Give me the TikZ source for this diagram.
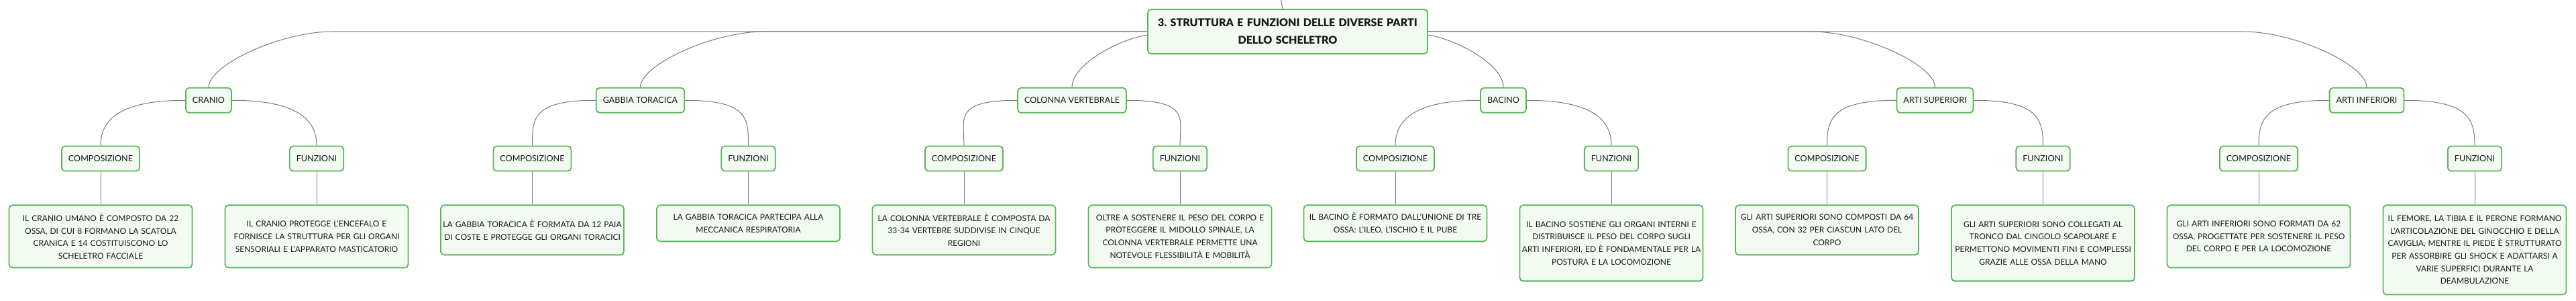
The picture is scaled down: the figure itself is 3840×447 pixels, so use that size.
\documentclass[tikz,border=0pt]{standalone}
\usepackage{fontspec}
\setmainfont{Lato}
\newfontfamily\latonero{Lato Black}
\frenchspacing
\usetikzlibrary{positioning,calc}
\definecolor{bordoverde}{RGB}{92,180,92}
\definecolor{fondoverde}{RGB}{242,250,242}
\definecolor{grigiolinea}{RGB}{120,120,120}
\definecolor{testo}{RGB}{25,25,25}
\tikzset{
    radice/.style={
           rectangle, rounded corners=5pt,
           draw=bordoverde, line width=1.8pt,
           fill=fondoverde, text=testo,
           minimum height=66pt,
           inner xsep=6pt,
           text width=405pt, align=center,
           font=\fontsize{16}{25.7}\selectfont\latonero},
    ramo/.style={
           rectangle, rounded corners=5pt,
           draw=bordoverde, line width=1.8pt,
           fill=fondoverde, text=testo,
           minimum height=37pt,
           inner xsep=10pt,
           font=\fontsize{12.6}{15}\selectfont},
    foglia/.style={
           rectangle, rounded corners=5pt,
           draw=bordoverde, line width=1.8pt,
           fill=fondoverde, text=testo,
           inner xsep=1pt,
           text width=271pt, align=center,
           font=\fontsize{12}{18.7}\selectfont},
    linea/.style={
           draw=grigiolinea,
           line width=1pt}
}
\begin{document}
\begin{tikzpicture}[x=1pt, y=1pt]
        \useasboundingbox (0,0) rectangle (3840,447);
        \coordinate (sopra) at (1909,449);
        \node[radice] (scheletro) at (1919.5,400) {3. STRUTTURA E FUNZIONI DELLE DIVERSE PARTI\\DELLO SCHELETRO};
        \node[ramo, below=49pt of scheletro, xshift=-1608.5pt] (cranio) {CRANIO};
        \node[ramo, below=49pt of scheletro, xshift=-965pt] (gabbia) {GABBIA TORACICA};
        \node[ramo, below=49pt of scheletro, xshift=-321.5pt] (colonna) {COLONNA VERTEBRALE};
        \node[ramo, below=49pt of scheletro, xshift=321.5pt] (bacino) {BACINO};
        \node[ramo, below=49pt of scheletro, xshift=965pt] (artisup) {ARTI SUPERIORI};
        \node[ramo, below=49pt of scheletro, xshift=1608.5pt] (artinf) {ARTI INFERIORI};

        \node[ramo, below=48pt of cranio, xshift=-161pt] (cranioC) {COMPOSIZIONE};
        \node[ramo, below=48pt of cranio, xshift=161pt] (cranioF) {FUNZIONI};
        \node[ramo, below=48pt of gabbia, xshift=-161pt] (gabbiaC) {COMPOSIZIONE};
        \node[ramo, below=48pt of gabbia, xshift=161pt] (gabbiaF) {FUNZIONI};
        \node[ramo, below=48pt of colonna, xshift=-161pt] (colonnaC) {COMPOSIZIONE};
        \node[ramo, below=48pt of colonna, xshift=161pt] (colonnaF) {FUNZIONI};
        \node[ramo, below=48pt of bacino, xshift=-161pt] (bacinoC) {COMPOSIZIONE};
        \node[ramo, below=48pt of bacino, xshift=161pt] (bacinoF) {FUNZIONI};
        \node[ramo, below=48pt of artisup, xshift=-161pt] (artisupC) {COMPOSIZIONE};
        \node[ramo, below=48pt of artisup, xshift=161pt] (artisupF) {FUNZIONI};
        \node[ramo, below=48pt of artinf, xshift=-161pt] (artinfC) {COMPOSIZIONE};
        \node[ramo, below=48pt of artinf, xshift=161pt] (artinfF) {FUNZIONI};

        \node[foglia, below=49pt of cranioC, minimum height=93pt] (cranioCt) {IL CRANIO UMANO È COMPOSTO DA 22\\OSSA, DI CUI 8 FORMANO LA SCATOLA\\CRANICA E 14 COSTITUISCONO LO\\SCHELETRO FACCIALE};
        \node[foglia, below=49pt of cranioF, minimum height=93pt] (cranioFt) {IL CRANIO PROTEGGE L’ENCEFALO E\\FORNISCE LA STRUTTURA PER GLI ORGANI\\SENSORIALI E L’APPARATO MASTICATORIO};
        \node[foglia, below=49pt of gabbiaC, minimum height=74pt] (gabbiaCt) {LA GABBIA TORACICA È FORMATA DA 12 PAIA\\DI COSTE E PROTEGGE GLI ORGANI TORACICI};
        \node[foglia, below=49pt of gabbiaF, minimum height=54pt] (gabbiaFt) {LA GABBIA TORACICA PARTECIPA ALLA\\MECCANICA RESPIRATORIA};
        \node[foglia, below=49pt of colonnaC, minimum height=74pt] (colonnaCt) {LA COLONNA VERTEBRALE È COMPOSTA DA\\33-34 VERTEBRE SUDDIVISE IN CINQUE\\REGIONI};
        \node[foglia, below=49pt of colonnaF, minimum height=93pt] (colonnaFt) {OLTRE A SOSTENERE IL PESO DEL CORPO E\\PROTEGGERE IL MIDOLLO SPINALE, LA\\COLONNA VERTEBRALE PERMETTE UNA\\NOTEVOLE FLESSIBILITÀ E MOBILITÀ};
        \node[foglia, below=49pt of bacinoC, minimum height=54pt] (bacinoCt) {IL BACINO È FORMATO DALL’UNIONE DI TRE\\OSSA: L’ILEO, L’ISCHIO E IL PUBE};
        \node[foglia, below=49pt of bacinoF, minimum height=113pt] (bacinoFt) {IL BACINO SOSTIENE GLI ORGANI INTERNI E\\DISTRIBUISCE IL PESO DEL CORPO SUGLI\\ARTI INFERIORI, ED È FONDAMENTALE PER LA\\POSTURA E LA LOCOMOZIONE};
        \node[foglia, below=49pt of artisupC, minimum height=74pt] (artisupCt) {GLI ARTI SUPERIORI SONO COMPOSTI DA 64\\OSSA, CON 32 PER CIASCUN LATO DEL\\CORPO};
        \node[foglia, below=49pt of artisupF, minimum height=113pt] (artisupFt) {GLI ARTI SUPERIORI SONO COLLEGATI AL\\TRONCO DAL CINGOLO SCAPOLARE E\\PERMETTONO MOVIMENTI FINI E COMPLESSI\\GRAZIE ALLE OSSA DELLA MANO};
        \node[foglia, below=49pt of artinfC, minimum height=93pt] (artinfCt) {GLI ARTI INFERIORI SONO FORMATI DA 62\\OSSA, PROGETTATE PER SOSTENERE IL PESO\\DEL CORPO E PER LA LOCOMOZIONE};
        \node[foglia, below=49pt of artinfF, minimum height=133pt] (artinfFt) {IL FEMORE, LA TIBIA E IL PERONE FORMANO\\L’ARTICOLAZIONE DEL GINOCCHIO E DELLA\\CAVIGLIA, MENTRE IL PIEDE È STRUTTURATO\\PER ASSORBIRE GLI SHOCK E ADATTARSI A\\VARIE SUPERFICI DURANTE LA\\DEAMBULAZIONE};

        \draw[linea] (sopra) -- (scheletro);
        \draw[linea] (scheletro.west) -- ($(scheletro.west -| cranio.north)+(185,0)$) .. controls +(-78,0) and +(0,33) .. (cranio.north);
        \draw[linea] (scheletro.west) -- ($(scheletro.west -| gabbia.north)+(185,0)$) .. controls +(-78,0) and +(0,33) .. (gabbia.north);
        \draw[linea] ($(scheletro.west)+(0,-5)$) .. controls +(-40,-6) and +(0,35) .. (colonna.north);
        \draw[linea] ($(scheletro.east)+(0,-5)$) .. controls +(40,-6) and +(0,35) .. (bacino.north);
        \draw[linea] (scheletro.east) -- ($(scheletro.east -| artisup.north)+(-185,0)$) .. controls +(78,0) and +(0,33) .. (artisup.north);
        \draw[linea] (scheletro.east) -- ($(scheletro.east -| artinf.north)+(-185,0)$) .. controls +(78,0) and +(0,33) .. (artinf.north);

        \foreach \p in {cranio,gabbia,colonna,bacino,artisup,artinf}{
            \draw[linea] (\p.west) .. controls +(-95,0) and +(0,40) .. (\p C.north);
            \draw[linea] (\p.east) .. controls +(95,0) and +(0,40) .. (\p F.north);
            \draw[linea] (\p C) -- (\p Ct);
            \draw[linea] (\p F) -- (\p Ft);
        }
    \end{tikzpicture}
\end{document}
